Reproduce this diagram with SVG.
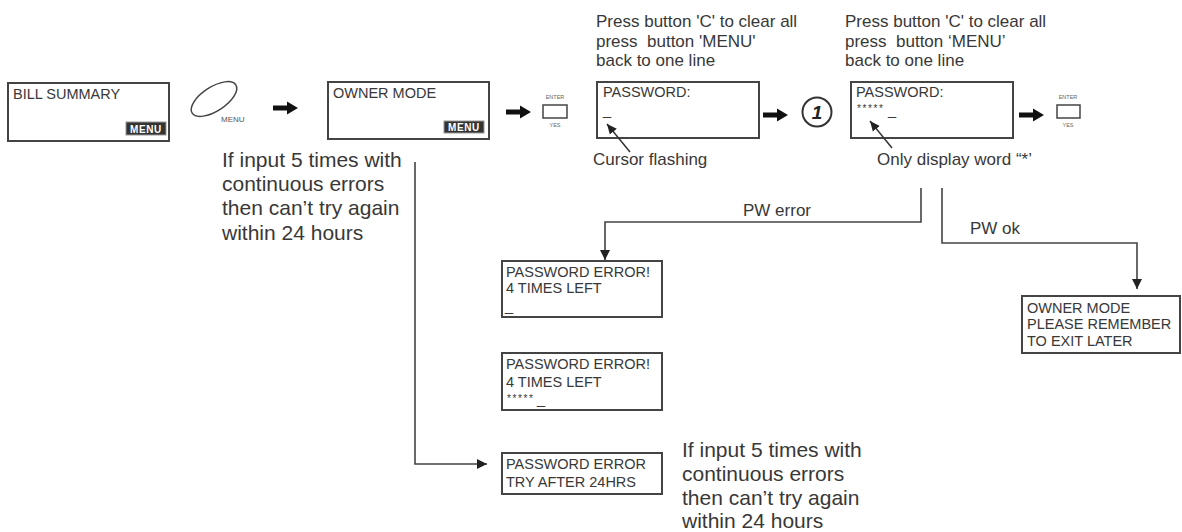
<svg xmlns="http://www.w3.org/2000/svg" width="1182" height="532" viewBox="0 0 1182 532">
<style>
text { font-family: "Liberation Sans", Arial, sans-serif; fill:#383838; white-space: pre; }
.box { fill:#fff; stroke:#444; stroke-width:2; }
.bt { font-size:14.5px; }
.note { font-size:17px; }
.big { font-size:21px; }
.conn { fill:none; stroke:#444; stroke-width:1.6; }
.ptr { fill:none; stroke:#333; stroke-width:1.5; }
.badge { fill:#333; stroke:#999; stroke-width:1; }
.badget { font-size:10px; font-weight:bold; fill:#fff; letter-spacing:0.6px; }
.tiny { font-size:5.5px; fill:#666; }
.stars { font-size:10px; letter-spacing:1.6px; }
.bigarrow { fill:#111; }
.btn { fill:#fff; stroke:#444; stroke-width:1.5; }
</style>
<defs>
<marker id="head" markerUnits="userSpaceOnUse" markerWidth="10" markerHeight="10" refX="10" refY="5" orient="auto">
<path d="M0,0 L10,5 L0,10 Z" fill="#222"/>
</marker>
<marker id="phead" markerUnits="userSpaceOnUse" markerWidth="10" markerHeight="10" refX="10" refY="5" orient="auto">
<path d="M0,0.5 L10,5 L0,9.5 Z" fill="#222"/>
</marker>
<path id="bigArrow" d="M0,-2.5 H14 V-6.5 L25,0 L14,6.5 V2.5 H0 Z"/>
</defs>

<g id="connectors">
<path class="conn" d="M921,188 V222 H605 V260" marker-end="url(#head)"/>
<path class="conn" d="M942,188 V243 H1137 V289" marker-end="url(#head)"/>
<path class="conn" d="M415,162 V464 H487" marker-end="url(#head)"/>
<text class="note" x="743" y="216">PW error</text>
<text class="note" x="970" y="234">PW ok</text>
<use href="#bigArrow" class="bigarrow" x="273" y="108"/>
<use href="#bigArrow" class="bigarrow" x="506" y="112"/>
<use href="#bigArrow" class="bigarrow" x="763" y="115"/>
<use href="#bigArrow" class="bigarrow" x="1019" y="115"/>
</g>

<g id="bill-summary">
<rect class="box" x="8" y="83" width="161" height="58"/>
<text class="bt" x="13" y="99">BILL SUMMARY</text>
<rect class="badge" x="126" y="122" width="40" height="13"/>
<text class="badget" x="146" y="132.5" text-anchor="middle">MENU</text>
</g>

<g id="menu-button">
<ellipse cx="214" cy="99" rx="26" ry="12" transform="rotate(-33 214 99)" fill="none" stroke="#444" stroke-width="1.5"/>
<text x="221" y="122" style="font-size:8px;fill:#555">MENU</text>
</g>

<g id="owner-mode">
<rect class="box" x="328" y="82" width="161" height="57"/>
<text class="bt" x="333" y="98">OWNER MODE</text>
<rect class="badge" x="444" y="121" width="40" height="12"/>
<text class="badget" x="464" y="131" text-anchor="middle">MENU</text>
</g>

<g id="enter-1">
<text class="tiny" x="555" y="99" text-anchor="middle">ENTER</text>
<rect class="btn" x="543" y="105" width="24" height="13"/>
<text class="tiny" x="555" y="127" text-anchor="middle">YES</text>
</g>

<g id="password-1">
<text class="note" x="596" y="27">Press button 'C' to clear all</text>
<text class="note" x="596" y="46.5">press  button 'MENU'</text>
<text class="note" x="596" y="66">back to one line</text>
<rect class="box" x="597" y="82" width="162" height="56"/>
<text class="bt" x="603" y="97">PASSWORD:</text>
<text class="bt" x="603" y="115">_</text>
<path class="ptr" d="M630,152 L607,124" marker-end="url(#phead)"/>
<text class="note" x="593" y="165">Cursor flashing</text>
</g>

<g id="step-1">
<circle cx="817" cy="112" r="14.5" fill="#fff" stroke="#333" stroke-width="2"/>
<text x="817" y="119" text-anchor="middle" style="font-size:19px;font-weight:bold;font-style:italic;fill:#222">1</text>
</g>

<g id="password-2">
<text class="note" x="845" y="27">Press button 'C' to clear all</text>
<text class="note" x="845" y="46.5">press  button ‘MENU’</text>
<text class="note" x="845" y="66">back to one line</text>
<rect class="box" x="851" y="82" width="162" height="56"/>
<text class="bt" x="856" y="97">PASSWORD:</text>
<text class="stars" x="857" y="112">*****</text>
<text class="bt" x="888" y="115">_</text>
<path class="ptr" d="M892,148 L870,121" marker-end="url(#phead)"/>
<text class="note" x="877" y="165">Only display word “*’</text>
</g>

<g id="enter-2">
<text class="tiny" x="1068" y="99" text-anchor="middle">ENTER</text>
<rect class="btn" x="1057" y="105" width="23" height="13"/>
<text class="tiny" x="1068" y="127" text-anchor="middle">YES</text>
</g>

<g id="note-left">
<text class="big" x="222" y="167">If input 5 times with</text>
<text class="big" x="222" y="191">continuous errors</text>
<text class="big" x="222" y="215">then can’t try again</text>
<text class="big" x="222" y="240">within 24 hours</text>
</g>

<g id="pw-error-1">
<rect class="box" x="502" y="261" width="160" height="56"/>
<text class="bt" x="506" y="277">PASSWORD ERROR!</text>
<text class="bt" x="506" y="293">4 TIMES LEFT</text>
<text class="bt" x="505" y="311">_</text>
</g>

<g id="pw-error-2">
<rect class="box" x="502" y="353" width="160" height="57"/>
<text class="bt" x="506" y="369">PASSWORD ERROR!</text>
<text class="bt" x="506" y="387">4 TIMES LEFT</text>
<text class="stars" x="507" y="402">*****</text>
<text class="bt" x="537" y="404">_</text>
</g>

<g id="pw-lock">
<rect class="box" x="502" y="453" width="160" height="41"/>
<text class="bt" x="506" y="469">PASSWORD ERROR</text>
<text class="bt" x="506" y="487">TRY AFTER 24HRS</text>
</g>

<g id="note-right">
<text class="big" x="682" y="457">If input 5 times with</text>
<text class="big" x="682" y="481">continuous errors</text>
<text class="big" x="682" y="505">then can’t try again</text>
<text class="big" x="682" y="528">within 24 hours</text>
</g>

<g id="owner-mode-ok">
<rect class="box" x="1022" y="296" width="158" height="57"/>
<text class="bt" x="1027" y="313">OWNER MODE</text>
<text class="bt" x="1027" y="329">PLEASE REMEMBER</text>
<text class="bt" x="1027" y="346">TO EXIT LATER</text>
</g>
</svg>
